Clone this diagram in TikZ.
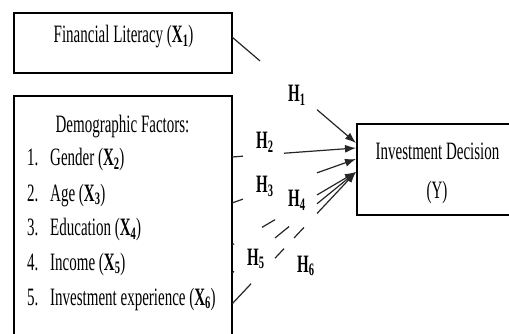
\documentclass[tikz,border=0pt]{standalone}
\usepackage{graphicx}
\usepackage{fontspec}
\setmainfont{Liberation Serif}
\usetikzlibrary{arrows.meta}
\newcommand{\nrw}[1]{\scalebox{0.6}[1]{#1}}
\tikzset{
  box/.style={draw=black, line width=1.2pt, inner sep=0pt, fill=none},
  txt/.style={inner sep=0pt, font=\fontsize{25}{30}\selectfont},
  hlab/.style={inner sep=0pt, font=\fontsize{25}{30}\selectfont\bfseries, anchor=base west},
  conn/.style={draw=black!85, line width=1.2pt, -{Latex[length=11pt,width=8pt]}}
}
\begin{document}
\begin{tikzpicture}[x=1pt,y=-1pt]
\clip (0,0) rectangle (509,334);
\fill[white] (0,0) rectangle (509,334);
% boxes
\node[box, minimum width=218pt, minimum height=60pt] (fl) at (123,43) {};
\node[box, minimum width=218pt, minimum height=264pt] (dem) at (123,228) {};
\node[box, minimum width=155pt, minimum height=91pt] (inv) at (434.5,169.5) {};
% texts
\node[txt, anchor=base] (tfl) at (123.5,43) {\nrw{Financial Literacy (\textbf{X\textsubscript{1}})}};
\node[txt, anchor=base] (tdem) at (122.5,133) {\nrw{Demographic Factors:}};
\node[txt, anchor=base west] (n1) at (27,166) {\nrw{1.}};
\node[txt, anchor=base west] (i1) at (50,166) {\nrw{Gender (\textbf{X\textsubscript{2}})}};
\node[txt, anchor=base west] (n2) at (27,201) {\nrw{2.}};
\node[txt, anchor=base west] (i2) at (50,201) {\nrw{Age (\textbf{X\textsubscript{3}})}};
\node[txt, anchor=base west] (n3) at (27,236) {\nrw{3.}};
\node[txt, anchor=base west] (i3) at (50,236) {\nrw{Education (\textbf{X\textsubscript{4}})}};
\node[txt, anchor=base west] (n4) at (27,270) {\nrw{4.}};
\node[txt, anchor=base west] (i4) at (50,270) {\nrw{Income (\textbf{X\textsubscript{5}})}};
\node[txt, anchor=base west] (n5) at (27,305) {\nrw{5.}};
\node[txt, anchor=base west] (i5) at (50,305) {\nrw{Investment experience (\textbf{X\textsubscript{6}})}};
\node[txt, anchor=base] (tinv1) at (437.5,160) {\nrw{Investment Decision}};
\node[txt, anchor=base] (tinv2) at (437,198) {\nrw{(Y)}};
% connector end points
\coordinate (s1) at (232,37);
\coordinate (s2) at (232,157);
\coordinate (s3) at (232,203);
\coordinate (s4) at (232,245);
\coordinate (s5) at (232,273);
\coordinate (s6) at (232,304);
\coordinate (t1) at (356,143);
\coordinate (t2) at (356,148);
\coordinate (t3) at (356,159);
\coordinate (t4) at (356,172);
% connectors
\draw[conn, dash pattern=on 36.8pt off 75pt on 300pt] (s1) -- (t1);
\draw[conn, dash pattern=on 11pt off 41.1pt on 300pt] (s2) -- (t2);
\draw[conn, dash pattern=on 11.7pt off 78.5pt on 300pt] (s3) -- (t3);
\draw[conn, dash pattern=on 2.3pt off 32.5pt on 15.1pt off 48.7pt on 300pt] (s4) -- (t4);
\draw[conn, dash pattern=on 2.6pt off 52.9pt on 18.1pt off 36.1pt on 300pt] (s5) -- (t4);
\draw[conn, dash pattern=on 27.8pt off 35.1pt on 13.1pt off 14.6pt on 14.6pt off 19pt on 300pt] (s6) -- (t4);
% labels
\node[hlab] (h1) at (288,102) {\nrw{H\textsubscript{1}}};
\node[hlab] (h2) at (256,149) {\nrw{H\textsubscript{2}}};
\node[hlab] (h3) at (256,193) {\nrw{H\textsubscript{3}}};
\node[hlab] (h4) at (288,207) {\nrw{H\textsubscript{4}}};
\node[hlab] (h5) at (247,265) {\nrw{H\textsubscript{5}}};
\node[hlab] (h6) at (297,272) {\nrw{H\textsubscript{6}}};
\end{tikzpicture}
\end{document}
